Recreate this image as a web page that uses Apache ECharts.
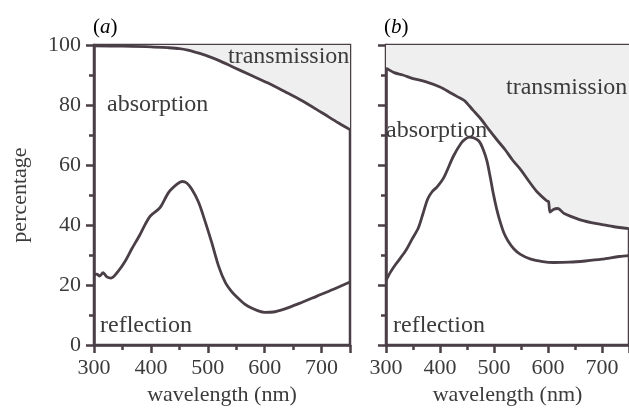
<!DOCTYPE html>
<html>
<head>
<meta charset="utf-8">
<script src="https://cdn.jsdelivr.net/npm/echarts@6/dist/echarts.min.js"></script>
<style>html,body{margin:0;padding:0;background:#fff}#c{width:629px;height:416px}</style>
</head>
<body>
<div id="c"></div>
<script>
// ---- data ----
var xTicks = [300, 400, 500, 600, 700];
var yTicks = [0, 20, 40, 60, 80, 100];

// panel (a): upper boundary (reflection + absorption), i.e. 100 - transmission
var aTopWl  = [300, 350, 400, 430, 450, 465, 480, 500, 520, 545, 575, 605, 635, 665, 700, 730, 750];
var aTopPct = [99.7, 99.6, 99.4, 99.1, 98.8, 98.3, 97.5, 96.3, 94.8, 92.6, 90.0, 87.4, 84.5, 81.5, 77.5, 74.0, 71.8];

// panel (a): reflection
var aRefWl  = [300, 305, 310, 316, 322, 330, 343, 355, 366, 380, 390, 399, 416, 431, 446, 455, 463, 472, 484, 496, 507, 519, 531, 542, 552, 565, 575, 590, 600, 615, 633, 660, 692, 720, 750];
var aRefPct = [23.2, 23.6, 23.0, 24.1, 22.8, 22.3, 24.7, 28.0, 31.9, 36.5, 40.2, 43.0, 45.8, 50.8, 53.6, 54.5, 54.0, 51.9, 47.5, 40.8, 34.1, 26.3, 20.8, 17.8, 15.8, 13.6, 12.5, 11.3, 10.9, 11.0, 11.9, 13.8, 16.3, 18.5, 21.0];

// panel (b): upper boundary
var bTopWl  = [300, 305, 315, 331, 350, 373, 400, 420, 432, 445, 461, 475, 491, 505, 521, 535, 550, 565, 580, 598, 601, 604, 610, 618, 630, 657, 680, 698, 720, 750];
var bTopPct = [92.3, 91.8, 90.8, 90.0, 88.8, 87.8, 86.0, 84.0, 82.8, 81.5, 78.3, 75.5, 71.7, 68.5, 65.0, 61.5, 58.3, 54.5, 51.0, 48.0, 47.8, 44.3, 45.2, 45.5, 43.8, 41.9, 40.8, 40.2, 39.5, 38.8];

// panel (b): reflection
var bRefWl  = [300, 308, 318, 336, 348, 360, 368, 377, 385, 395, 407, 425, 440, 448, 454, 462, 472, 480, 487, 493, 499, 505, 511, 518, 526, 537, 549, 568, 590, 610, 640, 669, 700, 732, 750];
var bRefPct = [21.5, 24.2, 26.9, 31.3, 35.2, 39.1, 43.5, 48.6, 51.0, 52.8, 55.8, 63.0, 67.5, 68.8, 69.3, 69.1, 68.0, 65.2, 61.3, 56.0, 50.2, 45.3, 41.3, 37.5, 34.7, 32.0, 30.2, 28.6, 27.8, 27.5, 27.6, 28.0, 28.6, 29.5, 29.8];

function pairs(xs, ys) { return xs.map(function (x, i) { return [x, ys[i]]; }); }

var INK = '#4a3f46';
var TXT = '#3b3b3b';
var FONT = '"Liberation Serif", "Times New Roman", serif';

function xAxisCfg(gi) {
  return {
    type: 'value', gridIndex: gi, min: 300, max: 750, interval: 100,
    name: 'wavelength (nm)', nameLocation: 'middle', nameGap: 38,
    nameTextStyle: { fontFamily: FONT, fontSize: 22, color: TXT },
    axisLine: { show: true, onZero: false, lineStyle: { color: INK, width: 2.5 } },
    axisTick: { show: true, inside: false, length: 8, lineStyle: { color: INK, width: 2.5 } },
    minorTick: { show: true, splitNumber: 2, length: 5, lineStyle: { color: INK, width: 2.5 } },
    axisLabel: {
      fontFamily: FONT, fontSize: 22, color: TXT, margin: 12, showMaxLabel: false,
      formatter: function (v) { return xTicks.indexOf(v) >= 0 ? String(v) : ''; }
    },
    splitLine: { show: false }
  };
}
function yAxisCfg(gi, labels) {
  return {
    type: 'value', gridIndex: gi, min: 0, max: 100, interval: 20,
    name: labels ? 'percentage' : '', nameLocation: 'middle', nameGap: 63, nameRotate: 90,
    nameTextStyle: { fontFamily: FONT, fontSize: 22, color: TXT },
    axisLine: { show: true, onZero: false, lineStyle: { color: INK, width: 2.5 } },
    axisTick: { show: true, inside: false, length: 8, lineStyle: { color: INK, width: 2.5 } },
    minorTick: { show: true, splitNumber: 2, length: 5, lineStyle: { color: INK, width: 2.5 } },
    axisLabel: {
      show: labels, fontFamily: FONT, fontSize: 22, color: TXT, margin: 13,
      formatter: function (v) { return yTicks.indexOf(v) >= 0 ? String(v) : ''; }
    },
    splitLine: { show: false }
  };
}
function lineSeries(gi, data, shade) {
  var s = {
    type: 'line', xAxisIndex: gi, yAxisIndex: gi, data: data,
    showSymbol: false, symbol: 'none', smooth: 0.3, animation: false,
    lineStyle: { color: INK, width: 2.8 }, silent: true, z: 3
  };
  if (shade) s.areaStyle = { origin: 'end', color: '#efefef', opacity: 1 };
  return s;
}
function label(text, x, y, size) {
  return { type: 'text', x: x, y: y, z: 10,
    style: { text: text, fill: TXT, font: size + 'px ' + FONT, verticalAlign: 'middle', align: 'left' } };
}
function panelLabel(letter, x, y) {
  return { type: 'text', x: x, y: y, z: 10,
    style: { text: '{p|(}{i|' + letter + '}{p|)}', verticalAlign: 'middle', align: 'left',
      rich: {
        p: { fontFamily: FONT, fontSize: 21, color: TXT },
        i: { fontFamily: FONT, fontSize: 21, fontStyle: 'italic', color: TXT }
      } } };
}

var chart = echarts.init(document.getElementById('c'), null, { renderer: 'canvas' });
chart.setOption({
  animation: false,
  backgroundColor: '#ffffff',
  grid: [
    { left: 94, top: 45, width: 256, height: 300, show: true, borderColor: INK, borderWidth: 2.5, backgroundColor: 'transparent' },
    { left: 386, top: 45, width: 253, height: 300, show: true, borderColor: INK, borderWidth: 2.5, backgroundColor: 'transparent' }
  ],
  xAxis: [xAxisCfg(0), xAxisCfg(1)],
  yAxis: [yAxisCfg(0, true), yAxisCfg(1, false)],
  series: [
    lineSeries(0, pairs(aTopWl, aTopPct), true),
    lineSeries(0, pairs(aRefWl, aRefPct), false),
    lineSeries(1, pairs(bTopWl, bTopPct), true),
    lineSeries(1, pairs(bRefWl, bRefPct), false)
  ],
  graphic: [
    panelLabel('a', 93, 27),
    panelLabel('b', 384, 27),
    label('transmission', 228, 57, 24),
    label('absorption', 107, 105, 24),
    label('reflection', 100, 326, 24),
    label('transmission', 506, 88, 24),
    label('absorption', 386, 131, 24),
    label('reflection', 393, 326, 24)
  ]
});
</script>
</body>
</html>
